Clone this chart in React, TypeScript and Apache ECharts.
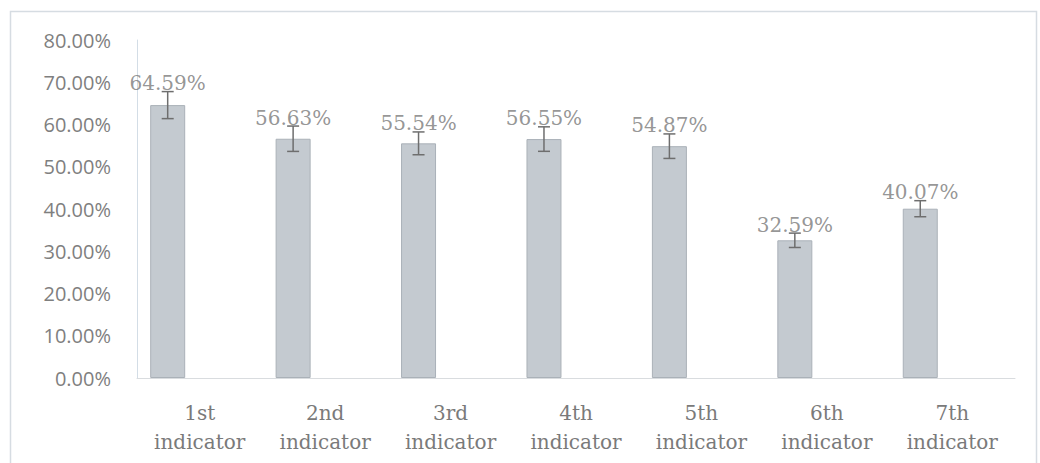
import React, { useEffect, useRef } from "react";
import * as echarts from "echarts";

const categories = ["1st\nindicator", "2nd\nindicator", "3rd\nindicator", "4th\nindicator", "5th\nindicator", "6th\nindicator", "7th\nindicator"];
const values = [64.59, 56.63, 55.54, 56.55, 54.87, 32.59, 40.07];
const errors = [3.2, 3.0, 2.7, 2.9, 2.9, 1.7, 1.9];
const yTicks = { min: 0, max: 80, interval: 10 };

const BAR_W = 35;
const GAP = 0.83;
const SERIF = "DejaVu Serif";

export default function App() {
  const ref = useRef<HTMLDivElement>(null);
  useEffect(() => {
    if (!ref.current) return;
    const chart = echarts.init(ref.current, null, { renderer: "svg" });
    const barOffset = -(2 * BAR_W + GAP * BAR_W) / 2 + BAR_W / 2;
    chart.setOption({
      animation: false,
      backgroundColor: "#ffffff",
      graphic: [
        {
          type: "rect",
          shape: { x: 10.5, y: 11.5, width: 1026, height: 460 },
          style: { fill: "none", stroke: "#d6dce2", lineWidth: 1.5 },
          silent: true,
          z: -1,
        },
      ],
      grid: { left: 137, right: 25, top: 40, bottom: 85, containLabel: false },
      xAxis: {
        type: "category",
        data: categories,
        axisTick: { show: false },
        axisLine: { show: true, lineStyle: { color: "#d9dcdf", width: 1 } },
        axisLabel: {
          color: "#7a7a7a",
          fontFamily: SERIF,
          fontSize: 20,
          lineHeight: 29,
          margin: 20,
          interval: 0,
        },
      },
      yAxis: {
        type: "value",
        min: yTicks.min,
        max: yTicks.max,
        interval: yTicks.interval,
        splitLine: { show: false },
        axisTick: { show: false },
        axisLine: { show: true, lineStyle: { color: "#d3dde6", width: 1 } },
        axisLabel: {
          color: "#7f7f7f",
          fontFamily: "Open Sans",
          fontSize: 20,
          margin: 26,
          formatter: (v: number) => v.toFixed(2) + "%",
        },
      },
      series: [
        {
          type: "bar",
          data: values,
          barWidth: BAR_W,
          barGap: GAP * 100 + "%",
          itemStyle: { color: "#c4cad0", borderColor: "#aab1b8", borderWidth: 1 },
        },
        {
          type: "bar",
          data: values.map(() => null),
          barWidth: BAR_W,
        },
        {
          type: "custom",
          data: values.map((v, i) => [i, v, errors[i]]),
          z: 10,
          renderItem: (params: any, api: any) => {
            const i = api.value(0);
            const v = api.value(1);
            const e = api.value(2);
            const c = api.coord([i, v]);
            const x = c[0] + barOffset;
            const yTop = api.coord([i, v + e])[1];
            const yBot = api.coord([i, v - e])[1];
            const cap = 6;
            const stroke = { stroke: "#6e6e6e", lineWidth: 1.5 };
            return {
              type: "group",
              children: [
                { type: "line", shape: { x1: x, y1: yTop, x2: x, y2: yBot }, style: stroke },
                { type: "line", shape: { x1: x - cap, y1: yTop, x2: x + cap, y2: yTop }, style: stroke },
                { type: "line", shape: { x1: x - cap, y1: yBot, x2: x + cap, y2: yBot }, style: stroke },
              ],
            };
          },
        },
        {
          type: "scatter",
          data: values.map((v, i) => [i, v + errors[i], v]),
          symbolSize: 1,
          itemStyle: { color: "rgba(0,0,0,0)" },
          z: 11,
          label: {
            show: true,
            position: "top",
            distance: 0,
            offset: [barOffset, 2],
            color: "#7a7a7a",
            fontFamily: SERIF,
            fontSize: 20,
            formatter: (p: any) => p.value[2].toFixed(2) + "%",
          },
        },
      ],
    });
    return () => chart.dispose();
  }, []);
  return (
    <div
      ref={ref}
      style={{ position: "fixed", left: 0, top: 0, width: 1040, height: 463 }}
    />
  );
}
